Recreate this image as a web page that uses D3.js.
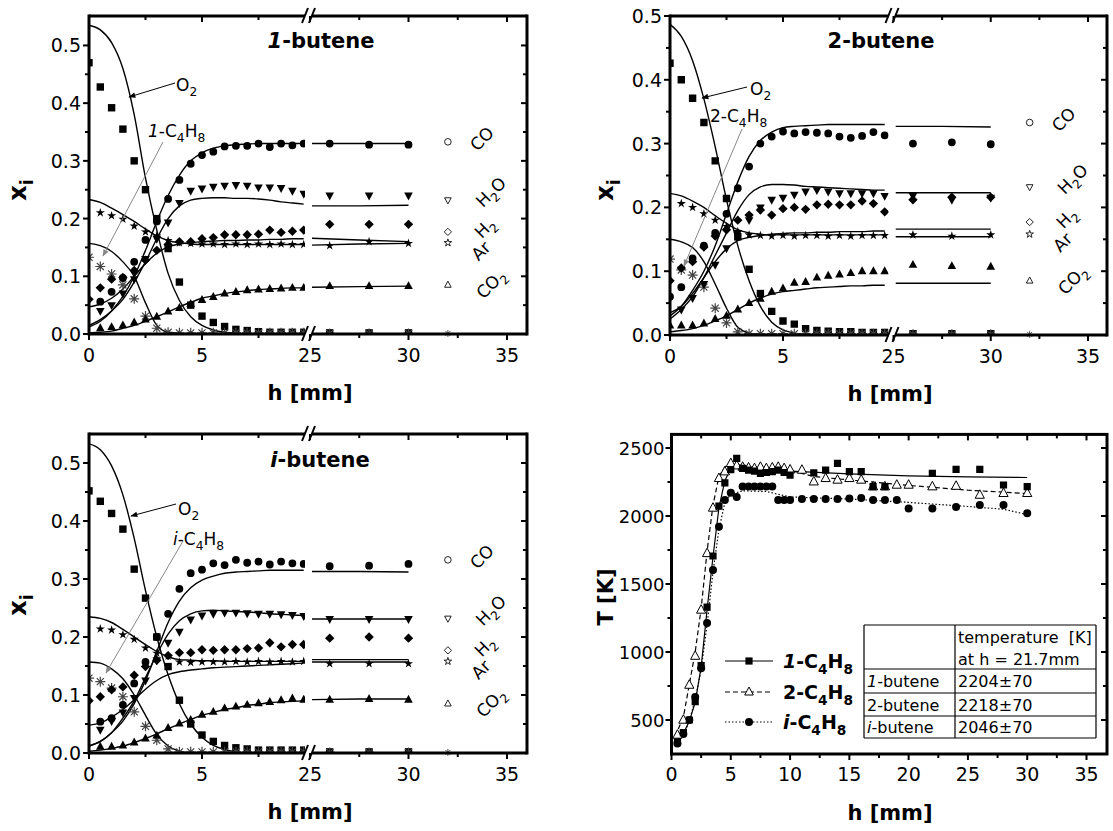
<!DOCTYPE html>
<html><head><meta charset="utf-8">
<script src="https://cdn.jsdelivr.net/npm/d3@7"></script>
<style>body{margin:0;background:#fff;} svg{display:block;font-family:'DejaVu Sans',sans-serif;} text{white-space:pre;}</style>
</head><body><svg id="c" width="1113" height="831"></svg>
<script>
// ---------------- DATA ----------------
// sampling heights (mm): left segment 0..9.5, right segment 26, 28, 30
const hData  = [0,0.5,1,1.5,2,2.5,3,3.5,4,4.5,5,5.5,6,6.5,7,7.5,8,8.5,9,9.5,26,28,30];
const hModel = [0,0.5,1,1.5,2,2.5,3,3.5,4,4.5,5,5.5,6,6.5,7,7.5,8,8.5,9,9.5,25.1,27.5,30];

// 1-butene
const b1_O2    = [0.47,0.428,0.392,0.355,0.30,0.25,0.20,0.148,0.09,0.05,0.031,0.02,0.013,0.008,0.006,0.004,0.003,0.003,0.003,0.003,0.002,0.002,0.002];
const b1_O2_m  = [0.535,0.527,0.505,0.46,0.38,0.27,0.18,0.105,0.058,0.03,0.015,0.007,0.003,0.001,0,0,0,0,0,0,null,null,null];
const b1_F     = [0.133,0.117,0.104,0.085,0.061,0.031,0.01,0.003,0.002,0.002,0.002,0.002,0.002,0.002,0.002,0.002,0.002,0.002,0.002,0.002,0.001,0.001,0.001];
const b1_F_m   = [0.157,0.153,0.143,0.125,0.1,0.054,0.015,0.003,0.001,0,0,0,0,0,0,0,0,0,0,0,null,null,null];
const b1_Ar    = [null,0.21,0.205,0.199,0.187,0.177,0.17,0.162,0.158,0.157,0.156,0.156,0.155,0.156,0.155,0.156,0.155,0.156,0.155,0.155,0.153,0.16,0.157];
const b1_Ar_m  = [0.233,0.228,0.218,0.207,0.195,0.182,0.17,0.162,0.158,0.156,0.155,0.155,0.155,0.155,0.155,0.155,0.155,0.155,0.155,0.155,0.154,0.156,0.157];
const b1_CO    = [null,0.056,0.073,0.097,0.125,0.163,0.195,0.234,0.267,0.295,0.31,0.316,0.325,0.326,0.326,0.33,0.324,0.33,0.327,0.33,0.33,0.328,0.328];
const b1_CO_m  = [0.012,0.022,0.04,0.065,0.1,0.145,0.195,0.24,0.275,0.3,0.314,0.322,0.326,0.328,0.329,0.33,0.33,0.33,0.33,0.33,0.33,0.33,0.33];
const b1_H2O   = [null,0.04,0.05,0.07,0.095,0.13,0.165,0.193,0.227,0.248,0.252,0.255,0.257,0.258,0.257,0.254,0.254,0.253,0.248,0.243,0.24,0.24,0.24];
const b1_H2O_m = [0.015,0.025,0.04,0.06,0.09,0.125,0.165,0.2,0.222,0.232,0.235,0.236,0.236,0.235,0.235,0.234,0.232,0.229,0.227,0.225,0.222,0.222,0.223];
const b1_H2    = [0.06,0.08,0.095,0.098,0.11,0.128,0.145,0.155,0.16,0.16,0.165,0.167,0.172,0.172,0.172,0.173,0.18,0.176,0.178,0.18,0.19,0.19,0.19];
const b1_H2_m  = [0.047,0.052,0.062,0.078,0.1,0.122,0.14,0.151,0.156,0.158,0.16,0.161,0.162,0.162,0.163,0.163,0.164,0.164,0.165,0.165,0.166,0.163,0.16];
const b1_CO2   = [null,0.01,0.012,0.015,0.02,0.025,0.03,0.039,0.045,0.052,0.059,0.064,0.07,0.073,0.076,0.077,0.078,0.079,0.08,0.08,0.083,0.083,0.083];
const b1_CO2_m = [0.002,0.003,0.005,0.01,0.015,0.022,0.03,0.038,0.047,0.055,0.062,0.066,0.07,0.073,0.075,0.077,0.078,0.079,0.08,0.08,0.081,0.082,0.083];

// 2-butene
const b2_O2    = [0.426,0.40,0.371,0.333,0.273,0.214,0.154,0.103,0.065,0.037,0.022,0.017,0.01,0.007,0.006,0.005,0.005,0.004,0.004,0.004,0.002,0.002,0.002];
const b2_O2_m  = [0.487,0.468,0.43,0.37,0.295,0.212,0.14,0.085,0.045,0.02,0.008,0.003,0.001,0,0,0,0,0,0,0,null,null,null];
const b2_F     = [0.119,0.102,0.094,0.075,0.042,0.019,0.005,0.002,0.002,0.002,0.002,0.002,0.002,0.002,0.002,0.002,0.002,0.002,0.002,0.002,0.001,0.001,0.001];
const b2_F_m   = [0.15,0.146,0.137,0.115,0.08,0.042,0.012,0.003,0.001,0,0,0,0,0,0,0,0,0,0,0,null,null,null];
const b2_Ar    = [null,0.206,0.2,0.19,0.18,0.17,0.162,0.157,0.156,0.155,0.156,0.155,0.156,0.156,0.155,0.156,0.155,0.156,0.156,0.156,0.157,0.155,0.157];
const b2_Ar_m  = [0.222,0.218,0.21,0.2,0.187,0.175,0.165,0.16,0.158,0.157,0.157,0.157,0.157,0.157,0.157,0.157,0.157,0.157,0.157,0.157,0.154,0.154,0.154];
const b2_CO    = [0.06,0.075,0.12,0.14,0.16,0.19,0.23,0.264,0.30,0.311,0.319,0.316,0.318,0.317,0.316,0.311,0.309,0.312,0.318,0.313,0.30,0.302,0.299];
const b2_CO_m  = [0.03,0.045,0.07,0.1,0.14,0.19,0.24,0.28,0.305,0.318,0.325,0.327,0.328,0.329,0.33,0.33,0.33,0.33,0.33,0.33,0.327,0.327,0.326];
const b2_H2O   = [null,0.04,0.058,0.08,0.11,0.136,0.16,0.18,0.2,0.212,0.215,0.22,0.225,0.227,0.225,0.222,0.222,0.222,0.222,0.218,0.218,0.212,0.215];
const b2_H2O_m = [0.025,0.04,0.06,0.09,0.125,0.16,0.195,0.22,0.232,0.236,0.236,0.235,0.233,0.232,0.231,0.23,0.229,0.228,0.227,0.227,0.223,0.223,0.223];
const b2_H2    = [0.085,0.105,0.115,0.138,0.155,0.165,0.18,0.188,0.196,0.188,0.198,0.2,0.197,0.204,0.205,0.204,0.204,0.21,0.206,0.193,0.212,0.216,0.216];
const b2_H2_m  = [0.035,0.045,0.065,0.09,0.115,0.135,0.148,0.153,0.156,0.158,0.159,0.16,0.16,0.161,0.161,0.162,0.162,0.162,0.163,0.163,0.166,0.166,0.166];
const b2_CO2   = [0.015,0.015,0.015,0.018,0.025,0.03,0.04,0.05,0.057,0.068,0.073,0.082,0.083,0.09,0.093,0.095,0.097,0.1,0.1,0.1,0.11,0.108,0.107];
const b2_CO2_m = [0.005,0.007,0.01,0.015,0.022,0.03,0.04,0.05,0.058,0.064,0.068,0.07,0.072,0.074,0.075,0.076,0.077,0.077,0.078,0.078,0.081,0.081,0.081];

// i-butene
const b3_O2    = [0.452,0.434,0.413,0.386,0.317,0.267,0.2,0.149,0.091,0.05,0.031,0.02,0.013,0.009,0.007,0.005,0.005,0.005,0.005,0.005,0.002,0.002,0.002];
const b3_O2_m  = [0.533,0.523,0.495,0.445,0.37,0.28,0.2,0.135,0.085,0.05,0.027,0.013,0.006,0.002,0,0,0,0,0,0,null,null,null];
const b3_F     = [0.129,0.123,0.112,0.097,0.071,0.046,0.022,0.007,0.002,0.002,0.002,0.002,0.002,0.002,0.002,0.002,0.002,0.002,0.002,0.002,0.001,0.001,0.001];
const b3_F_m   = [0.157,0.155,0.145,0.128,0.1,0.065,0.032,0.012,0.003,0,0,0,0,0,0,0,0,0,0,0,null,null,null];
const b3_Ar    = [null,0.214,0.212,0.204,0.196,0.181,0.172,0.167,0.157,0.156,0.157,0.157,0.157,0.158,0.157,0.158,0.157,0.158,0.157,0.158,0.154,0.154,0.154];
const b3_Ar_m  = [0.235,0.232,0.225,0.213,0.2,0.187,0.175,0.166,0.161,0.16,0.159,0.159,0.158,0.158,0.158,0.158,0.158,0.158,0.158,0.158,0.161,0.161,0.161];
const b3_CO    = [null,0.054,0.06,0.083,0.12,0.157,0.2,0.24,0.283,0.31,0.316,0.327,0.324,0.333,0.328,0.33,0.325,0.33,0.327,0.326,0.322,0.323,0.326];
const b3_CO_m  = [0.012,0.02,0.035,0.055,0.085,0.125,0.175,0.225,0.262,0.285,0.298,0.305,0.31,0.312,0.313,0.314,0.315,0.315,0.315,0.315,0.313,0.313,0.312];
const b3_H2O   = [null,0.04,0.055,0.07,0.095,0.125,0.16,0.19,0.209,0.23,0.237,0.24,0.242,0.242,0.241,0.24,0.24,0.239,0.238,0.236,0.231,0.231,0.231];
const b3_H2O_m = [0.012,0.02,0.035,0.06,0.09,0.13,0.17,0.205,0.228,0.24,0.245,0.246,0.245,0.244,0.243,0.242,0.24,0.239,0.238,0.237,0.231,0.231,0.231];
const b3_H2    = [0.09,0.097,0.109,0.114,0.134,0.149,0.16,0.168,0.173,0.173,0.178,0.177,0.178,0.178,0.18,0.181,0.19,0.183,0.187,0.187,0.198,0.2,0.198];
const b3_H2_m  = [0.048,0.052,0.062,0.075,0.092,0.11,0.125,0.135,0.14,0.143,0.145,0.147,0.148,0.149,0.15,0.151,0.152,0.153,0.154,0.155,0.157,0.157,0.157];
const b3_CO2   = [null,0.011,0.011,0.013,0.018,0.025,0.03,0.043,0.051,0.057,0.066,0.071,0.077,0.08,0.083,0.086,0.088,0.091,0.094,0.092,0.092,0.093,0.092];
const b3_CO2_m = [0.003,0.005,0.008,0.012,0.018,0.025,0.033,0.042,0.05,0.058,0.065,0.07,0.075,0.078,0.082,0.084,0.087,0.088,0.089,0.09,0.092,0.093,0.093];

// in-plot legend (open symbols at h = 32)
const legendH = 32;
const legendNames = ["CO","H2O","H2","Ar","CO2"];
const legendY = [0.333,0.232,0.177,0.158,0.085];

// axis ticks (x_i panels)
const xTicksLeft = [0,5], xMinorLeft = [2.5,7.5];
const xTicksRight = [25,30,35], xMinorRight = [27.5,32.5];
const yTicksXi = [0,0.1,0.2,0.3,0.4,0.5], yMinorXi = [0.05,0.15,0.25,0.35,0.45];

// temperature profiles
const hT1 = [0.5,1,1.5,2,2.5,3,3.5,4,4.5,5,5.5,6,6.5,7,7.5,8,8.5,9,9.5,10,12,13,14,15,16,17,18,22,24,26,28,30];
const T1  = [340,407,500,635,900,1330,1706,2073,2243,2340,2424,2350,2338,2330,2314,2320,2326,2338,2320,2301,2318,2338,2387,2326,2326,2216,2216,2314,2343,2343,2228,2216];
const hT2 = [0.5,1,1.5,2,2.5,3,3.5,4,4.5,5,5.5,6,6.5,7,7.5,8,8.5,9,9.5,10,11,12,13,14,15,16,17,18,19,20,22,24,26,28,30];
const T2  = [390,500,757,970,1309,1725,2059,2277,2326,2387,2370,2360,2355,2350,2360,2350,2355,2360,2350,2340,2338,2252,2277,2265,2277,2265,2216,2216,2228,2228,2216,2220,2154,2167,2167];
const hT3 = [0.5,1,1.5,2,2.5,3,3.5,4,4.5,5,5.5,6,6.5,7,7.5,8,8.5,9,9.5,10,11,12,13,14,15,16,17,18,19,20,22,24,26,28,30];
const T3  = [328,397,500,669,880,1213,1603,1921,2118,2171,2140,2216,2216,2216,2216,2216,2216,2118,2118,2118,2125,2125,2125,2125,2128,2133,2118,2118,2118,2056,2056,2067,2081,2081,2020];
const hL1 = [0.3,1,1.5,2,2.5,3,3.5,4,4.5,5,5.5,7,10,15,20,25,30];
const TL1 = [330,400,490,630,890,1310,1700,2060,2260,2350,2365,2350,2330,2310,2295,2288,2283];
const hL2 = [0.3,1,1.5,2,2.5,3,3.5,4,4.5,5,6,8,10,12,15,20,25,30];
const TL2 = [380,520,760,1000,1320,1740,2080,2290,2360,2385,2370,2355,2335,2290,2265,2225,2190,2165];
const hL3 = [0.3,1,1.5,2,2.5,3,3.5,4,4.5,5,6,8,9,10,15,20,25,28,30];
const TL3 = [320,390,490,650,870,1200,1590,1900,2100,2160,2185,2180,2160,2140,2125,2100,2070,2050,2010];
const xTicksT = [0,5,10,15,20,25,30,35], xMinorT = [2.5,7.5,12.5,17.5,22.5,27.5,32.5];
const yTicksT = [500,1000,1500,2000,2500], yMinorT = [750,1250,1750,2250];

// table
const tableHeader = ["temperature  [K]", "at h = 21.7mm"];
const tableFuelPrefix = ["1","2","i"];
const tableFuelItalic = [true,false,true];
const tableValues = ["2204±70","2218±70","2046±70"];

// ---------------- DRAWING ----------------
const svg = d3.select('#c');
svg.append('rect').attr('width',1113).attr('height',831).attr('fill','#fff');
const defs = svg.append('defs');
function arrowDef(id, color){
  defs.append('marker').attr('id',id).attr('viewBox','0 0 10 10').attr('refX',9).attr('refY',5)
    .attr('markerWidth',8).attr('markerHeight',7).attr('markerUnits','userSpaceOnUse').attr('orient','auto')
    .append('path').attr('d','M0,1L10,5L0,9Z').attr('fill',color);
}
arrowDef('ahk','#000'); arrowDef('ahg','#888');

function shapePath(type, r){
  switch(type){
    case 'square': return `M${-r},${-r}h${2*r}v${2*r}h${-2*r}Z`;
    case 'circle': return `M${r},0A${r},${r} 0 1,1 ${-r},0A${r},${r} 0 1,1 ${r},0Z`;
    case 'tri': return `M0,${-r*1.15}L${r},${r*0.7}L${-r},${r*0.7}Z`;
    case 'tridown': return `M0,${r*1.15}L${r},${-r*0.7}L${-r},${-r*0.7}Z`;
    case 'diamond': return `M0,${-r*1.3}L${r*1.3},0L0,${r*1.3}L${-r*1.3},0Z`;
    case 'star': { let p=''; for(let i=0;i<10;i++){const a=-Math.PI/2+i*Math.PI/5; const rr=i%2?r*0.45:r*1.2; p+=(i?'L':'M')+(rr*Math.cos(a)).toFixed(2)+','+(rr*Math.sin(a)).toFixed(2);} return p+'Z'; }
    case 'asterisk': { let p=''; for(let i=0;i<4;i++){const a=i*Math.PI/4; const c=(Math.cos(a)*r).toFixed(2), s=(Math.sin(a)*r).toFixed(2); p+=`M${-c},${-s}L${c},${s}`;} return p; }
  }
}

function rich(g, x, y, parts, size, attrs){
  const t = g.append('text').attr('x',x).attr('y',y).attr('font-size',size);
  if (attrs) Object.entries(attrs).forEach(([k,v])=>t.attr(k,v));
  let off = 0;
  parts.forEach(p=>{
    const ts = t.append('tspan').text(p.t);
    const target = p.sub ? size*0.3 : 0;
    if (target !== off){ ts.attr('dy', target-off); off = target; }
    if (p.sub) ts.attr('font-size', size*0.72);
    if (p.it) ts.attr('font-style','italic');
  });
  return t;
}
const chemParts = {
  "CO":[{t:'CO'}], "H2O":[{t:'H'},{t:'2',sub:true},{t:'O'}], "H2":[{t:'H'},{t:'2',sub:true}],
  "Ar":[{t:'Ar'}], "CO2":[{t:'CO'},{t:'2',sub:true}]
};
const legendShapes = ['circle','tridown','diamond','star','tri'];
const legendOffsets = [[34,-3],[43,-8],[37,-4],[33,8],[43,-1]];

function drawXiPanel(P){
  const g = svg.append('g');
  const leftEnd = P.x25 - 5, rightStart = P.x25 + 2;
  const xl = d3.scaleLinear().domain([0,5]).range([P.x0, P.x5]);
  const xr = d3.scaleLinear().domain([25,35]).range([P.x25, P.x35]);
  const X = h => h < 20 ? xl(h) : xr(h);
  const y = d3.scaleLinear().domain([0,P.yMax]).range([P.yB, P.yT]);
  const idL='cl'+P.id, idR='cr'+P.id;
  defs.append('clipPath').attr('id',idL).append('rect').attr('x',P.x0).attr('y',P.yT).attr('width',leftEnd-P.x0).attr('height',P.yB-P.yT);
  defs.append('clipPath').attr('id',idR).append('rect').attr('x',rightStart).attr('y',P.yT).attr('width',P.xEnd-rightStart).attr('height',P.yB-P.yT);
  const gL = g.append('g').attr('clip-path',`url(#${idL})`);
  const gR = g.append('g').attr('clip-path',`url(#${idR})`);
  const lineC = d3.line().defined(d=>d[1]!=null).x(d=>X(d[0])).y(d=>y(d[1])).curve(d3.curveMonotoneX);
  const lineS = d3.line().defined(d=>d[1]!=null).x(d=>X(d[0])).y(d=>y(d[1]));
  P.series.forEach(s=>{
    const pts = hModel.map((h,i)=>[h, s.model[i]]);
    gL.append('path').attr('d', lineC(pts.slice(0,20))).attr('fill','none').attr('stroke','#000').attr('stroke-width',1.4);
    if (pts[20][1]!=null) gR.append('path').attr('d', lineS(pts.slice(20))).attr('fill','none').attr('stroke','#000').attr('stroke-width',1.4);
  });
  P.series.forEach(s=>{
    const pts = hData.map((h,i)=>[h, s.data[i]]).filter(d=>d[1]!=null);
    [gL,gR].forEach((gg,k)=>{
      const sub = pts.filter(d=> k===0 ? d[0]<20 : d[0]>20);
      const sel = gg.selectAll(null).data(sub).enter().append('path')
        .attr('transform', d=>`translate(${X(d[0])},${y(d[1])})`)
        .attr('d', shapePath(s.shape, s.r));
      if (s.shape==='asterisk') sel.attr('fill','none').attr('stroke','#444').attr('stroke-width',1.2);
      else sel.attr('fill','#000');
    });
  });
  // legend symbols + labels
  legendNames.forEach((n,i)=>{
    const px = X(legendH), py = y(legendY[i]);
    g.append('path').attr('transform',`translate(${px},${py})`).attr('d',shapePath(legendShapes[i], legendShapes[i]==='diamond'?2.8:3.3))
      .attr('fill','none').attr('stroke','#222').attr('stroke-width',1);
    const cx = px+legendOffsets[i][0], cy = py+legendOffsets[i][1];
    rich(g, cx, cy, chemParts[n], 17, {'text-anchor':'middle','dy':'0.35em','transform':`rotate(-45 ${cx} ${cy})`});
  });
  g.append('path').attr('transform',`translate(${X(legendH)},${y(0.001)})`).attr('d',shapePath('asterisk',3.5))
    .attr('fill','none').attr('stroke','#555').attr('stroke-width',1);
  // frame
  const fw = 3;
  const fr = g.append('g').attr('stroke','#000').attr('stroke-width',fw).attr('fill','none');
  fr.append('line').attr('x1',P.x0).attr('x2',P.x0).attr('y1',P.yT-1.5).attr('y2',P.yB+1.5);
  fr.append('line').attr('x1',P.xEnd).attr('x2',P.xEnd).attr('y1',P.yT-1.5).attr('y2',P.yB+1.5);
  [P.yT,P.yB].forEach(yy=>{
    fr.append('line').attr('x1',P.x0).attr('x2',leftEnd).attr('y1',yy).attr('y2',yy);
    fr.append('line').attr('x1',rightStart).attr('x2',P.xEnd).attr('y1',yy).attr('y2',yy);
    [leftEnd, rightStart].forEach(xs=>{
      g.append('line').attr('x1',xs-3).attr('y1',yy+7).attr('x2',xs+3).attr('y2',yy-8).attr('stroke','#000').attr('stroke-width',2);
    });
  });
  // ticks
  const tk = g.append('g').attr('stroke','#000').attr('stroke-width',2);
  const xt = [...xTicksLeft.map(v=>[xl(v),6]), ...xTicksRight.map(v=>[xr(v),6]), ...xMinorLeft.map(v=>[xl(v),4]), ...xMinorRight.map(v=>[xr(v),4])];
  xt.forEach(([px,len])=>{
    tk.append('line').attr('x1',px).attr('x2',px).attr('y1',P.yB).attr('y2',P.yB+len);
    tk.append('line').attr('x1',px).attr('x2',px).attr('y1',P.yT).attr('y2',P.yT+len);
  });
  const yt = [...yTicksXi.filter(v=>v<=P.yMax+1e-9).map(v=>[y(v),6]), ...yMinorXi.map(v=>[y(v),4])];
  yt.forEach(([py,len])=>{
    tk.append('line').attr('x1',P.x0).attr('x2',P.x0-len).attr('y1',py).attr('y2',py);
    tk.append('line').attr('x1',P.xEnd).attr('x2',P.xEnd-len).attr('y1',py).attr('y2',py);
  });
  // tick labels
  const fmt = d3.format('.1f');
  yTicksXi.filter(v=>v<=P.yMax+1e-9).forEach(v=>{
    g.append('text').attr('x',P.x0-8).attr('y',y(v)+7).attr('text-anchor','end').attr('font-size',19).text(fmt(v));
  });
  xTicksLeft.forEach(v=> g.append('text').attr('x',xl(v)).attr('y',P.yB+28).attr('text-anchor','middle').attr('font-size',19).text(v));
  xTicksRight.forEach(v=> g.append('text').attr('x',xr(v)).attr('y',P.yB+28).attr('text-anchor','middle').attr('font-size',19).text(v));
  // axis titles
  g.append('text').attr('x',P.xLabelX).attr('y',P.yB+66).attr('text-anchor','middle').attr('font-size',21).attr('font-weight','bold').text('h [mm]');
  rich(g, P.yLabelX, P.yLabelY, [{t:'x'},{t:'i',sub:true}], 24, {'font-weight':'bold','text-anchor':'middle','transform':`rotate(-90 ${P.yLabelX} ${P.yLabelY})`});
  // title
  rich(g, P.titleX, P.titleY, P.title, 21, {'font-weight':'bold','text-anchor':'middle'});
  // annotations
  const A = P.ann;
  rich(g, A.o2x, A.o2y, [{t:'O'},{t:'2',sub:true}], 17, {});
  g.append('line').attr('x1',A.o2a[0]).attr('y1',A.o2a[1]).attr('x2',A.o2a[2]).attr('y2',A.o2a[3]).attr('stroke','#000').attr('stroke-width',1).attr('marker-end','url(#ahk)');
  rich(g, A.fx, A.fy, A.fuel, 17, {});
  g.append('line').attr('x1',A.fa[0]).attr('y1',A.fa[1]).attr('x2',A.fa[2]).attr('y2',A.fa[3]).attr('stroke','#888').attr('stroke-width',1).attr('marker-end','url(#ahg)');
}

function seriesOf(p){
  return [
    {data:p.O2, model:p.O2m, shape:'square', r:3.7},
    {data:p.F, model:p.Fm, shape:'asterisk', r:5},
    {data:p.Ar, model:p.Arm, shape:'star', r:4},
    {data:p.CO, model:p.COm, shape:'circle', r:3.9},
    {data:p.H2O, model:p.H2Om, shape:'tridown', r:4.3},
    {data:p.H2, model:p.H2m, shape:'diamond', r:3.6},
    {data:p.CO2, model:p.CO2m, shape:'tri', r:4.3}
  ];
}

drawXiPanel({id:1, x0:89, x5:202, x25:310, x35:507, xEnd:527, yT:16, yB:334, yMax:0.551,
  xLabelX:310, yLabelX:26, yLabelY:190, titleX:321, titleY:48, title:[{t:'1',it:true},{t:'-butene'}],
  series: seriesOf({O2:b1_O2,O2m:b1_O2_m,F:b1_F,Fm:b1_F_m,Ar:b1_Ar,Arm:b1_Ar_m,CO:b1_CO,COm:b1_CO_m,H2O:b1_H2O,H2Om:b1_H2O_m,H2:b1_H2,H2m:b1_H2_m,CO2:b1_CO2,CO2m:b1_CO2_m}),
  ann:{o2x:176,o2y:91,o2a:[175,83,129,97], fx:148,fy:137, fuel:[{t:'1',it:true},{t:'-C'},{t:'4',sub:true},{t:'H'},{t:'8',sub:true}], fa:[163,142,103,256]}});

drawXiPanel({id:2, x0:670, x5:783, x25:893.5, x35:1088, xEnd:1107, yT:16, yB:335, yMax:0.5,
  xLabelX:890, yLabelX:613, yLabelY:190, titleX:881, titleY:48, title:[{t:'2-butene'}],
  series: seriesOf({O2:b2_O2,O2m:b2_O2_m,F:b2_F,Fm:b2_F_m,Ar:b2_Ar,Arm:b2_Ar_m,CO:b2_CO,COm:b2_CO_m,H2O:b2_H2O,H2Om:b2_H2O_m,H2:b2_H2,H2m:b2_H2_m,CO2:b2_CO2,CO2m:b2_CO2_m}),
  ann:{o2x:750,o2y:95,o2a:[747,87,702,98], fx:710,fy:122, fuel:[{t:'2-C'},{t:'4',sub:true},{t:'H'},{t:'8',sub:true}], fa:[742,129,684,266]}});

drawXiPanel({id:3, x0:89, x5:202, x25:310, x35:507, xEnd:527, yT:434, yB:753, yMax:0.55,
  xLabelX:310, yLabelX:26, yLabelY:605, titleX:320, titleY:467, title:[{t:'i',it:true},{t:'-butene'}],
  series: seriesOf({O2:b3_O2,O2m:b3_O2_m,F:b3_F,Fm:b3_F_m,Ar:b3_Ar,Arm:b3_Ar_m,CO:b3_CO,COm:b3_CO_m,H2O:b3_H2O,H2Om:b3_H2O_m,H2:b3_H2,H2m:b3_H2_m,CO2:b3_CO2,CO2m:b3_CO2_m}),
  ann:{o2x:178,o2y:515,o2a:[176,504,131,516], fx:173,fy:545, fuel:[{t:'i',it:true},{t:'-C'},{t:'4',sub:true},{t:'H'},{t:'8',sub:true}], fa:[183,541,106,673]}});

// ---------------- Temperature panel ----------------
(function(){
  const g = svg.append('g');
  const x0=671.5, xEnd=1107, yT=434.4, yB=754;
  const x = d3.scaleLinear().domain([0,35]).range([x0, 1086.5]);
  const y = d3.scaleLinear().domain([250,2600]).range([yB, yT]);
  defs.append('clipPath').attr('id','cT').append('rect').attr('x',x0).attr('y',yT).attr('width',xEnd-x0).attr('height',yB-yT);
  const gc = g.append('g').attr('clip-path','url(#cT)');
  const ln = d3.line().x(d=>x(d[0])).y(d=>y(d[1]));
  const lines = [[hL1,TL1,null],[hL2,TL2,'5,3'],[hL3,TL3,'1.5,2']];
  lines.forEach(([hs,ts,da])=>{
    const p = gc.append('path').attr('d', ln(hs.map((h,i)=>[h,ts[i]]))).attr('fill','none').attr('stroke','#000').attr('stroke-width',1.2);
    if (da) p.attr('stroke-dasharray',da);
  });
  const sets = [[hT3,T3,'circle',4,true],[hT2,T2,'tri',4.6,false],[hT1,T1,'square',3.6,true]];
  sets.forEach(([hs,ts,sh,r,filled])=>{
    gc.selectAll(null).data(hs.map((h,i)=>[h,ts[i]])).enter().append('path')
      .attr('transform',d=>`translate(${x(d[0])},${y(d[1])})`).attr('d',shapePath(sh,r))
      .attr('fill', filled?'#000':'#fff').attr('stroke','#000').attr('stroke-width', filled?0:1);
  });
  // legend
  const legRows = [
    {y:661, da:null, sh:'square', r:3.6, filled:true, parts:[{t:'1',it:true},{t:'-C'},{t:'4',sub:true},{t:'H'},{t:'8',sub:true}]},
    {y:692, da:'5,3', sh:'tri', r:4.3, filled:false, parts:[{t:'2-C'},{t:'4',sub:true},{t:'H'},{t:'8',sub:true}]},
    {y:722, da:'1.5,2', sh:'circle', r:4, filled:true, parts:[{t:'i',it:true},{t:'-C'},{t:'4',sub:true},{t:'H'},{t:'8',sub:true}]}
  ];
  legRows.forEach(L=>{
    const l = g.append('line').attr('x1',725).attr('x2',773).attr('y1',L.y).attr('y2',L.y).attr('stroke','#000').attr('stroke-width',1.2);
    if (L.da) l.attr('stroke-dasharray',L.da);
    g.append('path').attr('transform',`translate(749,${L.y})`).attr('d',shapePath(L.sh,L.r))
      .attr('fill',L.filled?'#000':'#fff').attr('stroke','#000').attr('stroke-width',L.filled?0:1);
    rich(g, 783, L.y+7, L.parts, 19, {'font-weight':'bold'});
  });
  // table
  const cols=[864,955,1096], rows=[625,669,693,716,738];
  const tb = g.append('g').attr('stroke','#000').attr('stroke-width',1.2);
  rows.forEach(r=>tb.append('line').attr('x1',cols[0]).attr('x2',cols[2]).attr('y1',r).attr('y2',r));
  cols.forEach(c=>tb.append('line').attr('x1',c).attr('x2',c).attr('y1',rows[0]).attr('y2',rows[4]));
  g.append('text').attr('x',958).attr('y',643).attr('font-size',16).text(tableHeader[0]);
  g.append('text').attr('x',958).attr('y',665).attr('font-size',16).text(tableHeader[1]);
  tableValues.forEach((v,i)=>{
    const by = (rows[i+1]+rows[i+2])/2 + 6;
    rich(g, 867, by, [{t:tableFuelPrefix[i], it:tableFuelItalic[i]},{t:'-butene'}], 16, {});
    g.append('text').attr('x',958).attr('y',by).attr('font-size',16).text(v);
  });
  // frame
  g.append('rect').attr('x',x0).attr('y',yT).attr('width',xEnd-x0).attr('height',yB-yT).attr('fill','none').attr('stroke','#000').attr('stroke-width',3);
  const tk = g.append('g').attr('stroke','#000').attr('stroke-width',2);
  [...xTicksT.map(v=>[x(v),6]), ...xMinorT.map(v=>[x(v),4])].forEach(([px,len])=>{
    tk.append('line').attr('x1',px).attr('x2',px).attr('y1',yB).attr('y2',yB+len);
    tk.append('line').attr('x1',px).attr('x2',px).attr('y1',yT).attr('y2',yT+len);
  });
  [...yTicksT.map(v=>[y(v),6]), ...yMinorT.map(v=>[y(v),4])].forEach(([py,len])=>{
    tk.append('line').attr('x1',x0).attr('x2',x0-len).attr('y1',py).attr('y2',py);
    tk.append('line').attr('x1',xEnd).attr('x2',xEnd-len).attr('y1',py).attr('y2',py);
  });
  xTicksT.forEach(v=>g.append('text').attr('x',x(v)).attr('y',yB+27).attr('text-anchor','middle').attr('font-size',19).text(v));
  yTicksT.forEach(v=>g.append('text').attr('x',x0-7).attr('y',y(v)+7).attr('text-anchor','end').attr('font-size',18).text(v));
  g.append('text').attr('x',890).attr('y',yB+66).attr('text-anchor','middle').attr('font-size',21).attr('font-weight','bold').text('h [mm]');
  g.append('text').attr('x',613).attr('y',597).attr('text-anchor','middle').attr('font-size',21).attr('font-weight','bold')
    .attr('transform','rotate(-90 613 597)').text('T [K]');
})();
</script></body></html>
